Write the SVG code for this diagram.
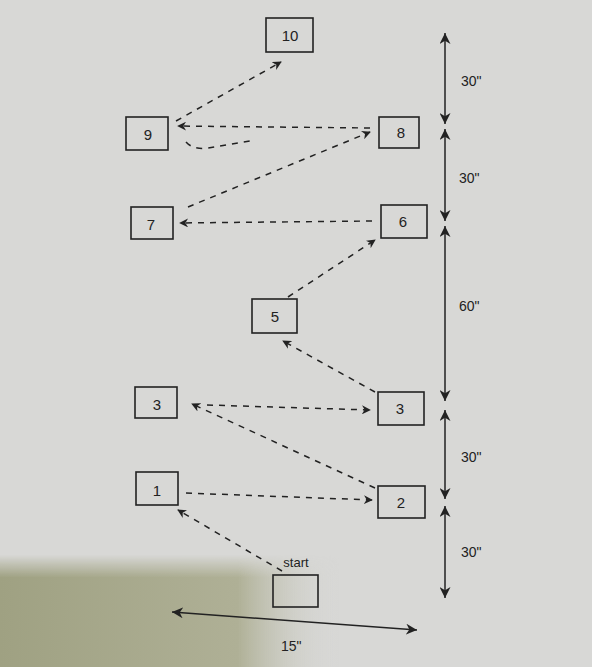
<svg xmlns="http://www.w3.org/2000/svg" width="592" height="667" viewBox="0 0 592 667">
<defs>
<marker id="ah" viewBox="0 0 10 10" refX="9" refY="5" markerWidth="9" markerHeight="9" orient="auto-start-reverse" markerUnits="userSpaceOnUse">
<path d="M0,0 L10,5 L0,10 L3,5 z" fill="#222"/>
</marker>
<marker id="dim" viewBox="0 0 10 10" refX="10" refY="5" markerWidth="11" markerHeight="11" orient="auto-start-reverse" markerUnits="userSpaceOnUse">
<path d="M0,0 L10,5 L0,10 L3,5 z" fill="#222"/>
</marker>
<linearGradient id="shadeH" x1="0" y1="0" x2="1" y2="0">
<stop offset="0" stop-color="#9fa182"/>
<stop offset="0.7" stop-color="#afb096"/>
<stop offset="1" stop-color="#d8d8d6" stop-opacity="0"/>
</linearGradient>
<linearGradient id="fadeV" x1="0" y1="0" x2="0" y2="1">
<stop offset="0" stop-color="#fff" stop-opacity="0"/>
<stop offset="0.2" stop-color="#fff" stop-opacity="1"/>
<stop offset="1" stop-color="#fff" stop-opacity="1"/>
</linearGradient>
<mask id="m">
<rect x="0" y="555" width="340" height="112" fill="url(#fadeV)"/>
</mask>
<style>
.box{fill:none;stroke:#222;stroke-width:1.6}
.lbl{font-family:"Liberation Sans",Arial,sans-serif;font-size:15px;fill:#222;text-anchor:middle;dominant-baseline:central}
.dash{fill:none;stroke:#222;stroke-width:1.5;stroke-dasharray:6 6}
.dim{fill:none;stroke:#222;stroke-width:1.5}
.ang{font-family:"Liberation Sans",Arial,sans-serif;font-size:14px;fill:#222}
</style>
</defs>
<rect x="0" y="0" width="592" height="667" fill="#d8d8d6"/>
<rect x="0" y="555" width="340" height="112" fill="url(#shadeH)" mask="url(#m)"/>

<g id="connectors">
<line class="dash" x1="282" y1="571" x2="178" y2="510" marker-end="url(#ah)"/>
<line class="dash" x1="186" y1="493" x2="372" y2="500" marker-end="url(#ah)"/>
<line class="dash" x1="375" y1="488" x2="192" y2="404" marker-end="url(#ah)"/>
<line class="dash" x1="207" y1="405" x2="370" y2="410" marker-end="url(#ah)"/>
<line class="dash" x1="375" y1="392" x2="283" y2="341" marker-end="url(#ah)"/>
<line class="dash" x1="288" y1="297" x2="375" y2="240" marker-end="url(#ah)"/>
<line class="dash" x1="372" y1="221" x2="180" y2="223" marker-end="url(#ah)"/>
<line class="dash" x1="188" y1="207" x2="370" y2="132" marker-end="url(#ah)"/>
<line class="dash" x1="370" y1="128" x2="178" y2="126" marker-end="url(#ah)"/>
<path class="dash" d="M186,142 Q193,150 208,148 L250,141"/>
<line class="dash" x1="176" y1="121" x2="281" y2="62" marker-end="url(#ah)"/>
<line class="dim" x1="172" y1="612" x2="417" y2="630" marker-start="url(#dim)" marker-end="url(#dim)"/>
<line class="dim" x1="445" y1="33" x2="445" y2="124" marker-start="url(#dim)" marker-end="url(#dim)"/>
<line class="dim" x1="445" y1="129" x2="445" y2="221" marker-start="url(#dim)" marker-end="url(#dim)"/>
<line class="dim" x1="445" y1="226" x2="445" y2="401" marker-start="url(#dim)" marker-end="url(#dim)"/>
<line class="dim" x1="445" y1="410" x2="445" y2="499" marker-start="url(#dim)" marker-end="url(#dim)"/>
<line class="dim" x1="445" y1="506" x2="445" y2="598" marker-start="url(#dim)" marker-end="url(#dim)"/>
</g>

<g id="n10"><rect class="box" x="266" y="18" width="47" height="34"/><text class="lbl" x="290" y="35">10</text></g>
<g id="n9"><rect class="box" x="126" y="117" width="42" height="33"/><text class="lbl" x="148" y="134">9</text></g>
<g id="n8"><rect class="box" x="379" y="117" width="40" height="31"/><text class="lbl" x="401" y="132">8</text></g>
<g id="n7"><rect class="box" x="131" y="207" width="42" height="32"/><text class="lbl" x="151" y="224">7</text></g>
<g id="n6"><rect class="box" x="381" y="205" width="46" height="33"/><text class="lbl" x="403" y="221">6</text></g>
<g id="n5"><rect class="box" x="252" y="299" width="45" height="34"/><text class="lbl" x="275" y="316">5</text></g>
<g id="n3a"><rect class="box" x="135" y="387" width="42" height="31"/><text class="lbl" x="157" y="404">3</text></g>
<g id="n3b"><rect class="box" x="378" y="392" width="46" height="33"/><text class="lbl" x="400" y="408">3</text></g>
<g id="n1"><rect class="box" x="136" y="472" width="42" height="33"/><text class="lbl" x="157" y="490">1</text></g>
<g id="n2"><rect class="box" x="378" y="486" width="47" height="32"/><text class="lbl" x="401" y="502">2</text></g>
<g id="start"><rect class="box" x="273" y="575" width="45" height="32"/><text class="lbl" x="296" y="562" style="font-size:13px">start</text></g>

<g id="labels">
<text class="ang" x="461" y="86">30"</text>
<text class="ang" x="459" y="183">30"</text>
<text class="ang" x="459" y="311">60"</text>
<text class="ang" x="461" y="462">30"</text>
<text class="ang" x="461" y="557">30"</text>
<text class="ang" x="281" y="651">15"</text>
</g>
</svg>
